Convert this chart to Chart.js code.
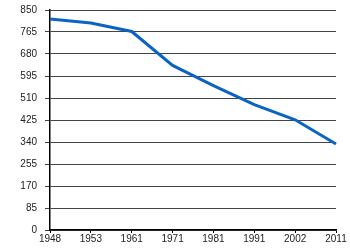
<!DOCTYPE html>
<html>
<head>
<meta charset="utf-8">
<script src="https://cdn.jsdelivr.net/npm/chart.js@4"></script>
<style>
html,body{margin:0;padding:0;background:#fff;}
#wrap{width:350px;height:250px;position:relative;}
</style>
</head>
<body>
<div id="wrap"><canvas id="c" width="350" height="250"></canvas></div>
<script>
const years = ["1948","1953","1961","1971","1981","1991","2002","2011"];
const values = [815, 800, 767, 636, 558, 484, 426, 332];
const yTicks = [0, 85, 170, 255, 340, 425, 510, 595, 680, 765, 850];

new Chart(document.getElementById('c'), {
  type: 'line',
  data: {
    labels: years,
    datasets: [{
      data: values,
      borderColor: '#0a64c4',
      borderWidth: 3,
      pointRadius: 0,
      tension: 0,
      fill: false
    }]
  },
  options: {
    responsive: false,
    animation: false,
    devicePixelRatio: 1,
    layout: { padding: { top: 10, right: 14, left: 0, bottom: 0 } },
    plugins: { legend: { display: false }, tooltip: { enabled: false } },
    scales: {
      x: {
        type: 'category',
        offset: false,
        grid: { drawOnChartArea: false, drawTicks: true, tickLength: 3, color: '#000' },
        border: { color: '#000', width: 1.5 },
        ticks: { color: '#222', font: { family: 'Liberation Sans', size: 10 }, padding: 0, maxRotation: 0, autoSkip: false },
        afterFit: (s) => { s.height = 20; s.paddingTop = 0; s.paddingBottom = 0; }
      },
      y: {
        min: 0, max: 850,
        afterBuildTicks: (s) => { s.ticks = yTicks.map(v => ({ value: v })); },
        grid: { color: '#444', lineWidth: 1, tickLength: 5 },
        border: { color: '#000', width: 1.5 },
        ticks: { color: '#222', font: { family: 'Liberation Sans', size: 10 }, padding: 8 },
        afterFit: (s) => { s.width = 50; s.paddingTop = 0; s.paddingBottom = 0; }
      }
    }
  }
});
</script>
</body>
</html>
